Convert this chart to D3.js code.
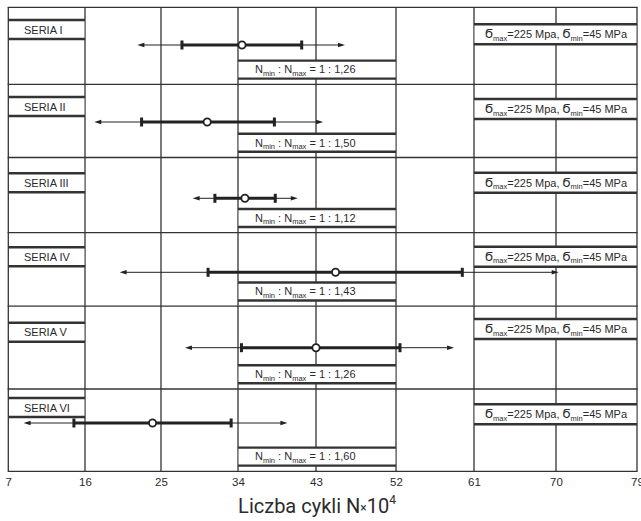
<!doctype html>
<html lang="pl">
<head>
    <meta charset="UTF-8">
    <title>Liczba cykli</title>
    <style>
        body { margin: 0; background: #fff; }
        text, tspan { font-family: "Liberation Sans", Arial, sans-serif; fill: #2b2b2b; }
    </style>
</head>
<body>
<script src="https://cdn.jsdelivr.net/npm/d3@7"></script>
<script>

    // data (N x 10^4)
    const ticks = [7, 16, 25, 34, 43, 52, 61, 70, 79]
    const series = ['SERIA I', 'SERIA II', 'SERIA III', 'SERIA IV', 'SERIA V', 'SERIA VI']
    const nLow = [22.2, 17.1, 28.7, 20.1, 27.8, 8.8]
    const nBandLow = [27.45, 22.7, 31.3, 30.5, 34.4, 14.7]
    const nMean = [34.46, 30.4, 34.8, 45.2, 43.0, 24.0]
    const nBandHigh = [41.35, 38.2, 38.3, 59.65, 52.46, 33.2]
    const nHigh = [46.26, 43.8, 40.9, 70.3, 58.7, 39.7]
    const ratios = ['1,26', '1,50', '1,12', '1,43', '1,26', '1,60']

    const width = 641
    const height = 521

    // the scanned grid is not quite even, so the scales are piecewise
    const x = d3.scaleLinear()
        .domain(ticks)
        .range([8.3, 85, 161, 238, 316, 396, 474, 556, 637])

    // row edges on whole numbers, data line on the halves
    const y = d3.scaleLinear()
        .domain(d3.range(0, 6.01, 0.5))
        .range([7.3, 45, 84.3, 122, 157.5, 198.3, 232.7, 272.3, 306.2, 347.7, 389, 423, 471.3])

    const ink = '#333'
    const svg = d3.select('body').append('svg')
        .attr('width', width)
        .attr('height', height)

    // grid
    svg.selectAll('.vline')
        .data(ticks)
        .enter()
        .append('line')
        .attr('x1', d => x(d))
        .attr('x2', d => x(d))
        .attr('y1', y(0))
        .attr('y2', y(6))
        .attr('stroke', ink)
        .attr('stroke-width', 1.3)

    svg.selectAll('.hline')
        .data(d3.range(7))
        .enter()
        .append('line')
        .attr('x1', x(7) - 0.6)
        .attr('x2', x(79) + 0.6)
        .attr('y1', d => y(d))
        .attr('y2', d => y(d))
        .attr('stroke', ink)
        .attr('stroke-width', 1.3)

    // boxes with thick top and bottom edges
    const box = (x0, x1, y0, y1) => {
        svg.append('rect')
            .attr('x', x(x0) + 0.7)
            .attr('y', y0)
            .attr('width', x(x1) - x(x0) - 1.4)
            .attr('height', y1 - y0)
            .attr('fill', '#fff')
        ;[y0, y1].forEach(v => {
            svg.append('line')
                .attr('x1', x(x0))
                .attr('x2', x(x1))
                .attr('y1', v)
                .attr('y2', v)
                .attr('stroke', ink)
                .attr('stroke-width', 2.4)
        })
    }

    const sigmaShift = [-0.7, -3, -5.6, -5.6, -8.7, 1.3]

    series.forEach((name, i) => {
        const mid = y(i + 0.5)

        // series label
        box(7, 16, mid - 25, mid - 6)
        svg.append('text')
            .attr('x', 24)
            .attr('y', mid - 11.5)
            .attr('font-size', 11)
            .text(name)

        // ratio box
        const nb = y(i + 1) - 5.7
        box(34, 52, nb - 18, nb)
        const t = svg.append('text')
            .attr('x', 255)
            .attr('y', nb - 5.3)
            .attr('font-size', 11)
        t.append('tspan').text('N')
        t.append('tspan').attr('font-size', 7.5).attr('dy', 2.5).text('min')
        t.append('tspan').attr('dy', -2.5).text(' : N')
        t.append('tspan').attr('font-size', 7.5).attr('dy', 2.5).text('max')
        t.append('tspan').attr('dy', -2.5).text(' = 1 : ' + ratios[i])

        // stress box
        const sb = mid + sigmaShift[i]
        box(61, 79, sb - 20, sb)
        const s = svg.append('text')
            .attr('x', 485)
            .attr('y', sb - 6)
            .attr('font-size', 11)
        s.append('tspan').style('font-family', '"DejaVu Sans"').attr('font-size', 11.5).text('\u03EC')
        s.append('tspan').attr('font-size', 7.5).attr('dy', 2.5).text('max')
        s.append('tspan').attr('dy', -2.5).text('=225 Mpa, ')
        s.append('tspan').style('font-family', '"DejaVu Sans"').attr('font-size', 11.5).text('\u03EC')
        s.append('tspan').attr('font-size', 7.5).attr('dy', 2.5).text('min')
        s.append('tspan').attr('dy', -2.5).text('=45 MPa')
    })

    // scatter of cycles: thin range with arrows, thick band, mean
    const rows = d3.range(series.length)

    svg.selectAll('.thin')
        .data(rows)
        .enter()
        .append('line')
        .attr('x1', i => x(nLow[i]) + 5)
        .attr('x2', i => x(nHigh[i]) - 5)
        .attr('y1', i => y(i + 0.5))
        .attr('y2', i => y(i + 0.5))
        .attr('stroke', '#222')
        .attr('stroke-width', 1)

    const arrow = (tip, dir, yy) =>
        `M${tip},${yy}L${tip + dir * 7},${yy - 2.3}L${tip + dir * 7},${yy + 2.3}Z`

    svg.selectAll('.arrowL')
        .data(rows)
        .enter()
        .append('path')
        .attr('d', i => arrow(x(nLow[i]), 1, y(i + 0.5)))
        .attr('fill', '#222')

    svg.selectAll('.arrowR')
        .data(rows)
        .enter()
        .append('path')
        .attr('d', i => arrow(x(nHigh[i]), -1, y(i + 0.5)))
        .attr('fill', '#222')

    svg.selectAll('.thick')
        .data(rows)
        .enter()
        .append('line')
        .attr('x1', i => x(nBandLow[i]))
        .attr('x2', i => x(nBandHigh[i]))
        .attr('y1', i => y(i + 0.5))
        .attr('y2', i => y(i + 0.5))
        .attr('stroke', '#222')
        .attr('stroke-width', 3)

    const ends = rows.flatMap(i => [[nBandLow[i], i], [nBandHigh[i], i]])
    svg.selectAll('.cap')
        .data(ends)
        .enter()
        .append('rect')
        .attr('x', d => x(d[0]) - 1.5)
        .attr('y', d => y(d[1] + 0.5) - 4.5)
        .attr('width', 3)
        .attr('height', 9)
        .attr('fill', '#222')

    svg.selectAll('.mean')
        .data(rows)
        .enter()
        .append('circle')
        .attr('cx', i => x(nMean[i]))
        .attr('cy', i => y(i + 0.5))
        .attr('r', 3.6)
        .attr('fill', '#fff')
        .attr('stroke', '#222')
        .attr('stroke-width', 1.8)

    // axis
    const axis = svg.append('g')
        .attr('transform', `translate(0, ${y(6)})`)
        .call(d3.axisBottom(x).tickValues(ticks).tickSize(0).tickPadding(7).tickFormat(d3.format('d')))
    axis.select('.domain').remove()
    axis.selectAll('text')
        .attr('font-size', 11.5)

    const title = svg.append('text')
        .attr('x', 317)
        .attr('y', 513)
        .attr('text-anchor', 'middle')
        .attr('font-size', 20)
        .style('font-family', 'Roboto, sans-serif')
        .style('fill', '#222')
    title.append('tspan').style('font-family', 'Roboto, sans-serif').text('Liczba cykli N')
    title.append('tspan').style('font-family', 'Roboto, sans-serif').attr('font-size', 12).attr('dy', -1).text('\u00D7')
    title.append('tspan').style('font-family', 'Roboto, sans-serif').attr('dy', 1).text('10')
    title.append('tspan').style('font-family', 'Roboto, sans-serif').attr('font-size', 12).attr('dy', -9).text('4')

</script>
</body>
</html>
